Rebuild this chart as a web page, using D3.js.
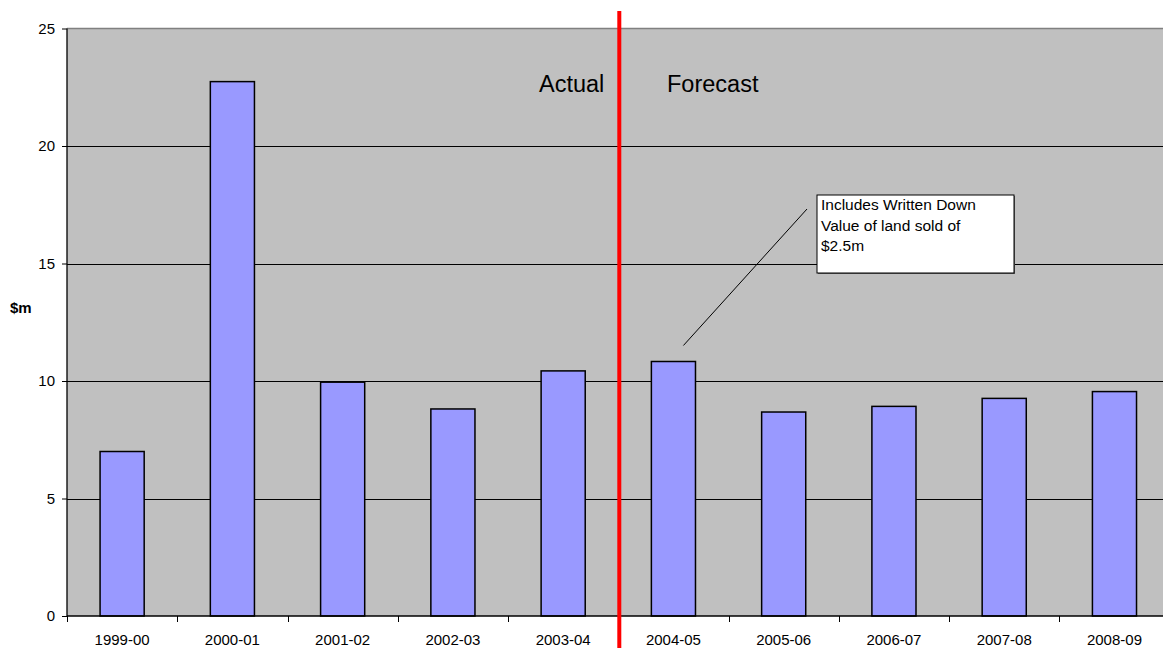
<!DOCTYPE html>
<html>
<head>
<meta charset="utf-8">
<script src="https://cdn.jsdelivr.net/npm/d3@7"></script>
<style>
  html, body { margin: 0; padding: 0; background: #fff; }
  svg { display: block; font-family: "Liberation Sans", Arial, sans-serif; }
</style>
</head>
<body>
<div id="chart"></div>
<script>
// Yearly amounts ($m): actuals to 2003-04, forecasts from 2004-05
const categories = ["1999-00", "2000-01", "2001-02", "2002-03", "2003-04",
                    "2004-05", "2005-06", "2006-07", "2007-08", "2008-09"];
const values = [7.0, 22.74, 9.95, 8.81, 10.43, 10.83, 8.68, 8.92, 9.26, 9.55];
const yTicks = [0, 5, 10, 15, 20, 25];
const splitAfter = "2003-04";
const noteCategory = "2004-05";
const noteLines = ["Includes Written Down", "Value of land sold of", "$2.5m"];

const W = 1163, H = 648;
const plot = { left: 67, top: 28.5, right: 1169.6, bottom: 616 };

const svg = d3.select("#chart").append("svg")
  .attr("width", W).attr("height", H);

const x = d3.scaleBand().domain(categories)
  .range([plot.left, plot.right]).padding(0);
const y = d3.scaleLinear().domain([0, 25]).range([plot.bottom, plot.top]);

// plot background
svg.append("rect")
  .attr("x", plot.left).attr("y", plot.top)
  .attr("width", plot.right - plot.left).attr("height", plot.bottom - plot.top)
  .attr("fill", "#c0c0c0");

// horizontal gridlines
svg.append("g").selectAll("line")
  .data(yTicks.filter(t => t > 0 && t < 25))
  .join("line")
  .attr("x1", plot.left).attr("x2", plot.right)
  .attr("y1", d => Math.round(y(d)) + 0.5).attr("y2", d => Math.round(y(d)) + 0.5)
  .attr("stroke", "#000").attr("stroke-width", 1);

// top border of the plot area
svg.append("line")
  .attr("x1", plot.left).attr("x2", plot.right)
  .attr("y1", y(25)).attr("y2", y(25))
  .attr("stroke", "#808080").attr("stroke-width", 1.5);

// bars
const bw = x.bandwidth() * 0.4;
svg.append("g").selectAll("rect")
  .data(categories)
  .join("rect")
  .attr("x", (d) => x(d) + (x.bandwidth() - bw) / 2)
  .attr("y", (d, i) => y(values[i]))
  .attr("width", bw)
  .attr("height", (d, i) => y(0) - y(values[i]))
  .attr("fill", "#9999ff")
  .attr("stroke", "#000")
  .attr("stroke-width", 1.5);

// y axis
const yAxis = d3.axisLeft(y).tickValues(yTicks).tickSize(5).tickPadding(7);
const gy = svg.append("g").attr("transform", `translate(${plot.left},0)`).call(yAxis);
gy.select(".domain").attr("stroke", "#000").attr("stroke-width", 1.3)
  .attr("d", `M0,${plot.top}V${plot.bottom}`);
gy.selectAll(".tick line").attr("stroke", "#000");
gy.selectAll(".tick text").attr("font-size", "15px").attr("fill", "#000")
  .attr("font-family", "Liberation Sans, Arial, sans-serif");

// x axis: ticks at band boundaries, labels centred in bands
const gx = svg.append("g");
gx.append("line")
  .attr("x1", plot.left).attr("x2", plot.right)
  .attr("y1", plot.bottom).attr("y2", plot.bottom)
  .attr("stroke", "#000").attr("stroke-width", 1.5);
gx.selectAll("line.tk")
  .data(categories)
  .join("line").attr("class", "tk")
  .attr("x1", d => Math.round(x(d)) + 0.5).attr("x2", d => Math.round(x(d)) + 0.5)
  .attr("y1", plot.bottom).attr("y2", plot.bottom + 6)
  .attr("stroke", "#000");
gx.selectAll("text")
  .data(categories)
  .join("text")
  .attr("x", d => x(d) + x.bandwidth() / 2)
  .attr("y", 645)
  .attr("text-anchor", "middle")
  .attr("font-size", "15px")
  .attr("fill", "#000")
  .text(d => d);

// y axis title
svg.append("text")
  .attr("x", 10).attr("y", 313)
  .attr("font-size", "15px").attr("font-weight", "bold")
  .text("$m");

// actual / forecast divider
const splitX = x(splitAfter) + x.bandwidth() + 1;
svg.append("line")
  .attr("x1", splitX).attr("x2", splitX)
  .attr("y1", 11).attr("y2", H)
  .attr("stroke", "#ff0000").attr("stroke-width", 4);

svg.append("text")
  .attr("x", 539).attr("y", 92)
  .attr("font-size", "23.5px").attr("fill", "#000")
  .text("Actual");
svg.append("text")
  .attr("x", 667).attr("y", 92)
  .attr("font-size", "23.5px").attr("fill", "#000")
  .text("Forecast");

// callout for the 2004-05 bar
const ni = categories.indexOf(noteCategory);
const barCx = x(noteCategory) + x.bandwidth() / 2;
svg.append("line")
  .attr("x1", barCx + 10).attr("y1", y(values[ni]) - 16)
  .attr("x2", 807).attr("y2", 209)
  .attr("stroke", "#000").attr("stroke-width", 1);

const box = { x: 817, y: 195, w: 197, h: 78 };
svg.append("rect")
  .attr("x", box.x + 1).attr("y", box.y + 1)
  .attr("width", box.w).attr("height", box.h)
  .attr("fill", "#606060");
svg.append("rect")
  .attr("x", box.x).attr("y", box.y)
  .attr("width", box.w).attr("height", box.h)
  .attr("fill", "#fff").attr("stroke", "#000").attr("stroke-width", 1);
svg.append("g").selectAll("text")
  .data(noteLines)
  .join("text")
  .attr("x", box.x + 4)
  .attr("y", (d, i) => 210 + i * 20.5)
  .attr("font-size", "15.5px")
  .attr("fill", "#000")
  .text(d => d);
</script>
</body>
</html>
